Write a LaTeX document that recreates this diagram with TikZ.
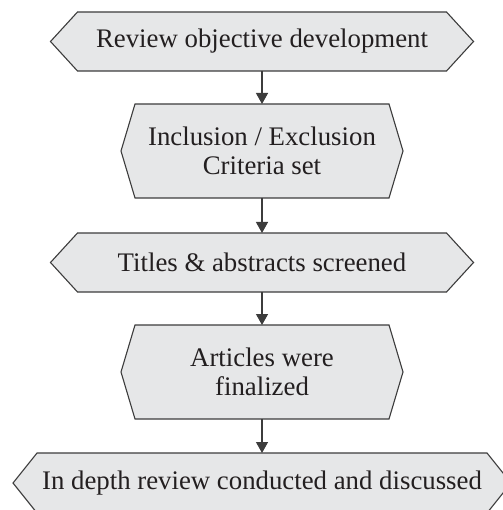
\documentclass[tikz,border=0pt]{standalone}
\usepackage{fontspec}
\setmainfont{Liberation Serif}
\usetikzlibrary{arrows.meta,backgrounds}
\definecolor{boxfill}{HTML}{E6E7E8}
\definecolor{boxline}{HTML}{3C3C3C}
\definecolor{txt}{HTML}{231F20}
\tikzset{
  stepnode/.style={rectangle, draw=none, inner sep=0pt, outer sep=0pt,
    align=center, text=txt, font=\fontsize{26.8}{29}\selectfont},
  hexdraw/.style={draw=boxline, fill=boxfill, line width=1.1pt, line join=miter},
  flowarrow/.style={draw=boxline, line width=1.3pt, -{Triangle[width=12pt,length=11pt]}}
}
\newcommand{\hexaround}[2]{%
  \path[hexdraw] ([xshift=#2pt]#1.north west) -- ([xshift=-#2pt]#1.north east)
    -- (#1.east) -- ([xshift=-#2pt]#1.south east) -- ([xshift=#2pt]#1.south west)
    -- (#1.west) -- cycle;}
\begin{document}
\begin{tikzpicture}[x=1pt,y=1pt]
\clip (0,0) rectangle (502,-510);
\node[stepnode, minimum width=423pt, minimum height=59pt] (a) at (262,-41.5) {Review objective development};
\node[stepnode, minimum width=282pt, minimum height=94pt] (b) at (262,-151) {Inclusion / Exclusion\\Criteria set};
\node[stepnode, minimum width=423pt, minimum height=59pt] (c) at (262,-262.5) {Titles \& abstracts screened};
\node[stepnode, minimum width=282pt, minimum height=94pt] (d) at (262,-372) {Articles were\\finalized};
\node[stepnode, minimum width=498pt, minimum height=60pt] (e) at (262,-483) {In depth review conducted and discussed};
\begin{scope}[on background layer]
  \hexaround{a}{27}
  \hexaround{b}{14}
  \hexaround{c}{27}
  \hexaround{d}{14}
  \hexaround{e}{24}
\end{scope}
\draw[flowarrow] (a.south) -- (b.north);
\draw[flowarrow] (b.south) -- (c.north);
\draw[flowarrow] (c.south) -- (d.north);
\draw[flowarrow] (d.south) -- (e.north);
\end{tikzpicture}
\end{document}
